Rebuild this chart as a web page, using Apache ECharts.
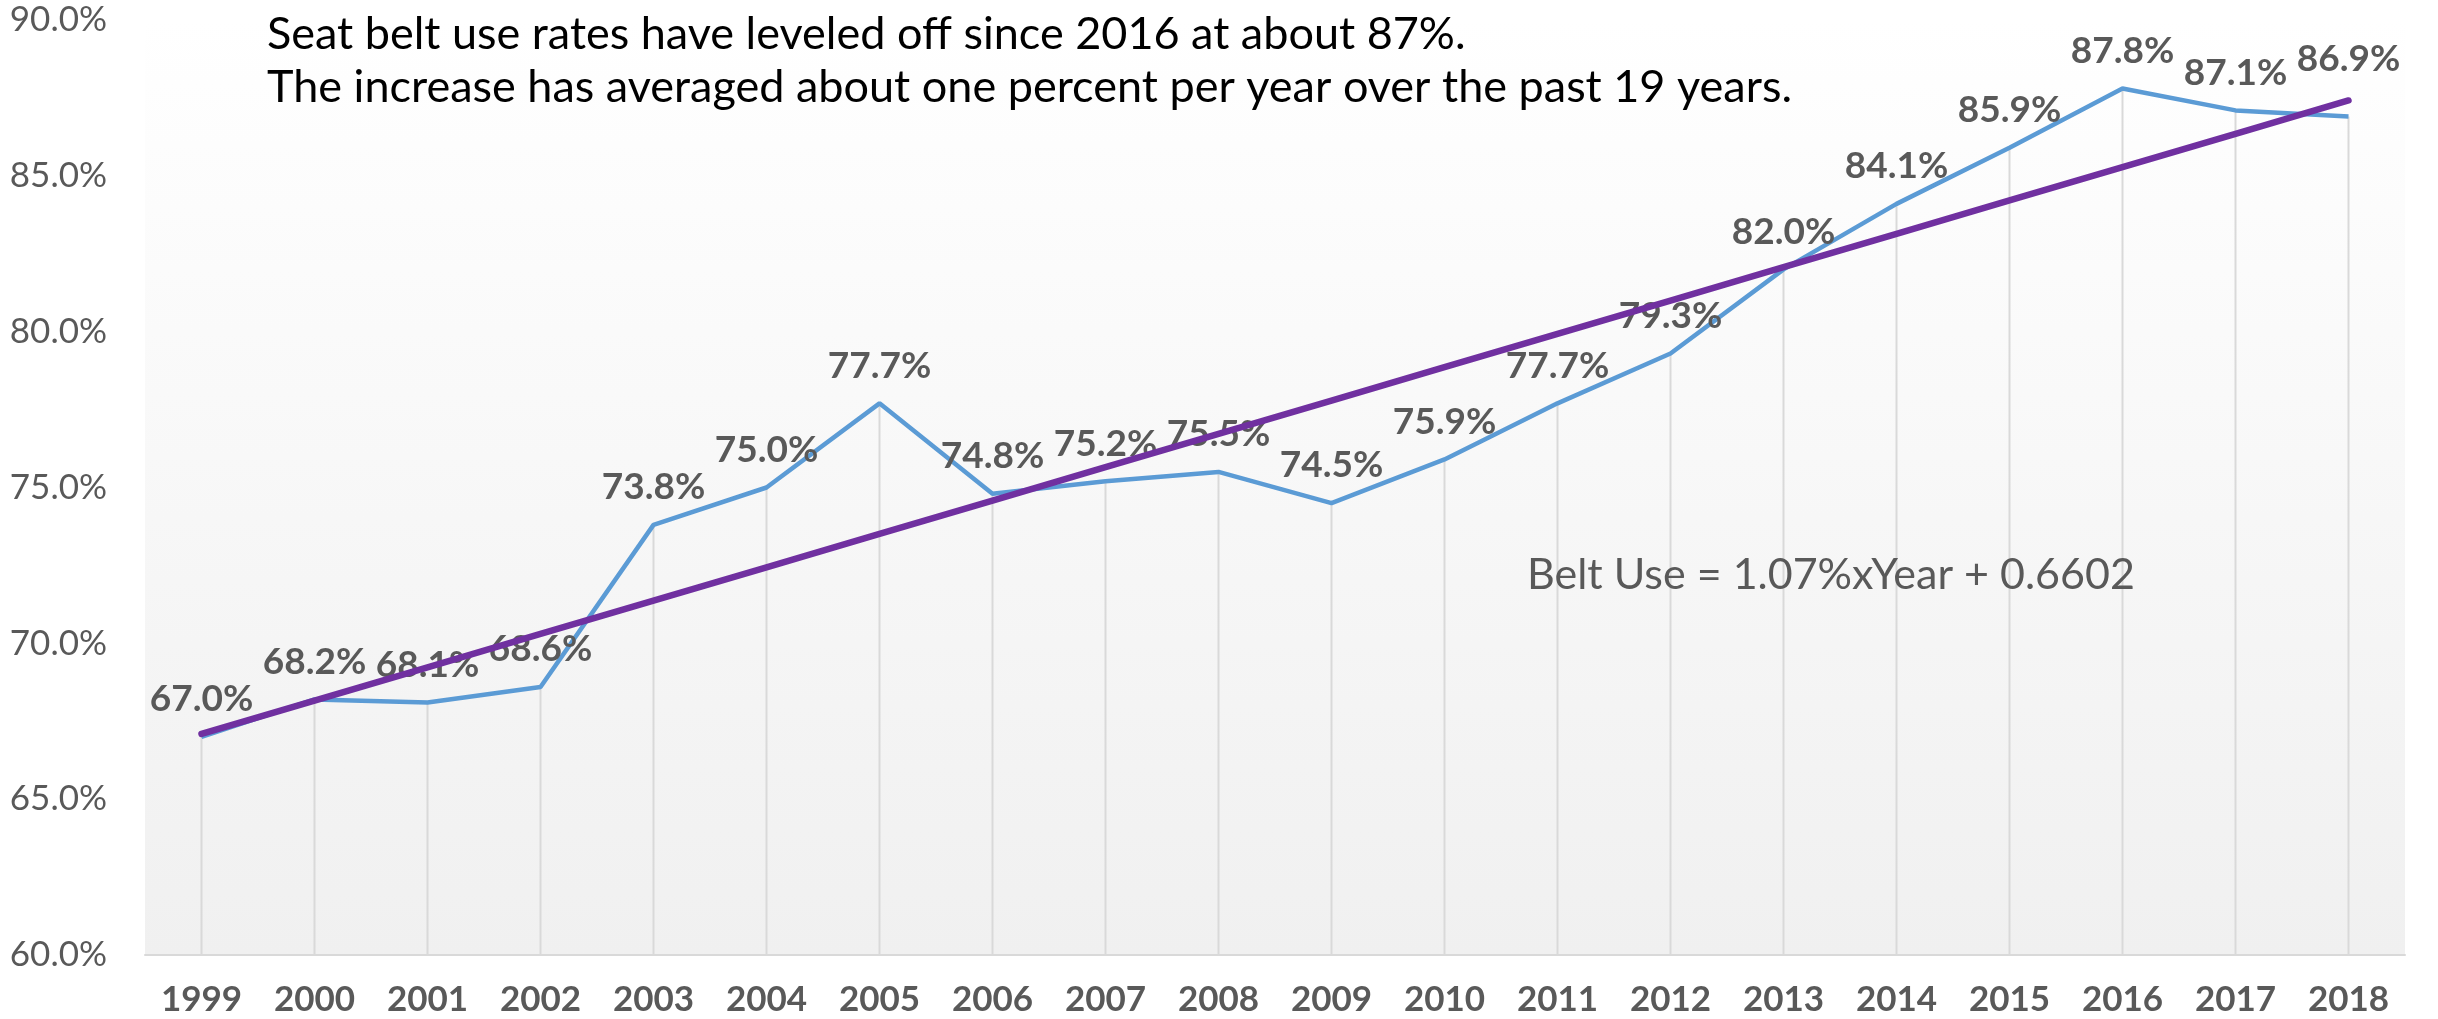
<!DOCTYPE html>
<html>
<head>
<meta charset="utf-8">
<title>Seat Belt Use Rates 1999–2018</title>
<script src="https://cdn.jsdelivr.net/npm/echarts@6/dist/echarts.min.js"></script>
<style>
  html, body { margin: 0; padding: 0; background: #ffffff; }
  #chart { width: 2438px; height: 1019px; }
</style>
</head>
<body>
<div id="chart"></div>
<script>
// Survey years shown on the category axis
const years = ['1999', '2000', '2001', '2002', '2003', '2004', '2005', '2006', '2007', '2008',
               '2009', '2010', '2011', '2012', '2013', '2014', '2015', '2016', '2017', '2018'];

// National seat belt use rate, percent
const beltUse = [67.0, 68.2, 68.1, 68.6, 73.8, 75.0, 77.7, 74.8, 75.2, 75.5,
                 74.5, 75.9, 77.7, 79.3, 82.0, 84.1, 85.9, 87.8, 87.1, 86.9];

// Value axis range and tick spacing, percent
const yMin = 60;
const yMax = 90;
const yStep = 5;

const headline = [
  'Seat belt use rates have leveled off since 2016 at about 87%.',
  'The increase has averaged about one percent per year over the past 19 years.'
];
const equationText = 'Belt Use = 1.07%xYear + 0.6602';

// Least-squares linear trend over year index 1..n
function linearFit(values) {
  const n = values.length;
  let sx = 0, sy = 0, sxx = 0, sxy = 0;
  values.forEach((v, i) => {
    const x = i + 1;
    sx += x; sy += v; sxx += x * x; sxy += x * v;
  });
  const slope = (n * sxy - sx * sy) / (n * sxx - sx * sx);
  const intercept = (sy - slope * sx) / n;
  return values.map((_, i) => slope * (i + 1) + intercept);
}
const trend = linearFit(beltUse);

const FONT = 'Lato, "Open Sans", sans-serif';
const GREY_TEXT = '#595959';

// Last label sits a little higher so it clears the trend line
const beltData = beltUse.map((v, i) => (i === beltUse.length - 1)
  ? { value: v, label: { offset: [0, -20] } }
  : v);

const chart = echarts.init(document.getElementById('chart'), null, { renderer: 'canvas' });

chart.setOption({
  backgroundColor: '#ffffff',
  animation: false,
  textStyle: { fontFamily: FONT },
  title: [
    {
      text: headline.join('\n'),
      left: 262,
      top: 3,
      textStyle: {
        fontFamily: FONT, fontSize: 45, fontWeight: 'normal',
        color: '#000000', lineHeight: 53
      }
    },
    {
      text: equationText,
      left: 1522,
      top: 544,
      textStyle: {
        fontFamily: FONT, fontSize: 43, fontWeight: 'normal',
        color: GREY_TEXT, lineHeight: 52
      }
    }
  ],
  grid: {
    left: 145, right: 33, top: 20, bottom: 64,
    show: true,
    borderWidth: 0,
    backgroundColor: new echarts.graphic.LinearGradient(0, 0, 0, 1, [
      { offset: 0, color: '#ffffff' },
      { offset: 1, color: '#f0f0f0' }
    ])
  },
  xAxis: {
    type: 'category',
    data: years,
    boundaryGap: true,
    axisLine: { show: true, lineStyle: { color: '#d9d9d9', width: 2 } },
    axisTick: { show: false },
    splitLine: { show: false },
    axisLabel: {
      color: GREY_TEXT, fontFamily: FONT, fontSize: 35, fontWeight: 'bold',
      margin: 27, interval: 0
    }
  },
  yAxis: {
    type: 'value',
    min: yMin, max: yMax, interval: yStep,
    axisLine: { show: false },
    axisTick: { show: false },
    splitLine: { show: false },
    axisLabel: {
      color: GREY_TEXT, fontFamily: FONT, fontSize: 35,
      margin: 38,
      formatter: v => v.toFixed(1) + '%'
    }
  },
  series: [
    {
      // drop lines from each observation to the category axis
      name: 'drop',
      type: 'bar',
      data: beltUse,
      barWidth: 2,
      silent: true,
      z: 1,
      itemStyle: { color: '#d9d9d9' }
    },
    {
      name: 'Belt Use',
      type: 'line',
      data: beltData,
      z: 2,
      symbol: 'circle',
      symbolSize: 0.1,
      showSymbol: true,
      itemStyle: { color: '#5B9BD5', opacity: 0 },
      lineStyle: { color: '#5B9BD5', width: 4.5 },
      label: {
        show: true,
        position: 'top',
        distance: 19,
        color: GREY_TEXT,
        fontFamily: FONT,
        fontSize: 37,
        fontWeight: 'bold',
        opacity: 1,
        formatter: p => p.value.toFixed(1) + '%'
      },
      silent: true
    },
    {
      name: 'Linear trend',
      type: 'line',
      data: trend,
      z: 3,
      symbol: 'none',
      lineStyle: { color: '#7030A0', width: 6.5, cap: 'round' },
      silent: true
    }
  ]
});
</script>
</body>
</html>
